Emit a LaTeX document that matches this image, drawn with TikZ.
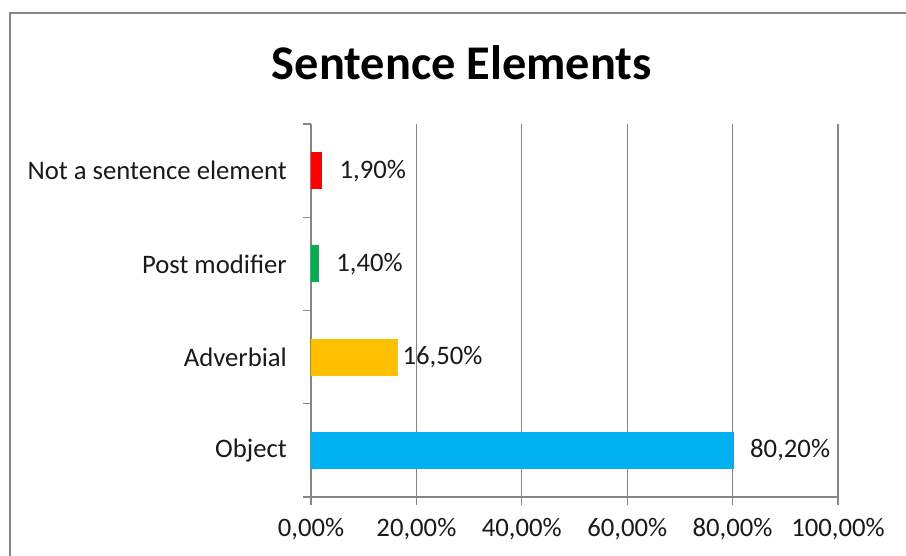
\documentclass[tikz,border=0pt]{standalone}
\usepackage{fontspec}
\setmainfont{Carlito}
\definecolor{gridgray}{HTML}{868686}
\definecolor{txt}{HTML}{1A1A1A}
\definecolor{barred}{HTML}{FF0000}
\definecolor{bargreen}{HTML}{00B050}
\definecolor{bargold}{HTML}{FFC000}
\definecolor{barblue}{HTML}{00B0F0}
\begin{document}
\begin{tikzpicture}[x=1pt,y=-1pt,
  grid/.style={draw=gridgray,line width=1.3pt},
  bar/.style={rectangle,anchor=west,inner sep=0pt,minimum height=37pt,fill=#1},
  vallabel/.style={anchor=west,inner sep=0pt,font=\fontsize{26.7}{26.7}\selectfont,text=txt},
  catlabel/.style={anchor=east,inner sep=0pt,font=\fontsize{26.7}{26.7}\selectfont,text=txt},
  ticklabel/.style={anchor=center,inner sep=0pt,font=\fontsize{26.7}{26.7}\selectfont,text=txt}]
\useasboundingbox (0,0) rectangle (906,555);
\fill[white] (0,0) rectangle (906,555);
% chart frame (runs past the page edge on the right and bottom)
\begin{scope}
\clip (0,0) rectangle (906,555);
\draw[draw=gridgray,line width=2pt] (9.5,13) rectangle (920,570);
\end{scope}
% title
\node[font=\bfseries\fontsize{48.4}{48.4}\selectfont,text=black,inner sep=0pt] (title) at (462,63) {Sentence Elements};
% vertical gridlines
\foreach \i in {1,...,5}{
  \draw[grid] ({311+105.4*\i},124) -- ({311+105.4*\i},497);
}
% axes and ticks
\draw[grid] (311,124) -- (311,497);
\draw[grid] (303,497) -- (838,497);
\foreach \j in {0,...,4}{
  \draw[grid] (303,{124+93.25*\j}) -- (311,{124+93.25*\j});
}
\foreach \i in {0,...,5}{
  \draw[grid] ({311+105.4*\i},497) -- ({311+105.4*\i},505);
}
% x tick labels
\node[ticklabel] (t0) at (311,529) {0,00\%};
\node[ticklabel] (t1) at (416.4,529) {20,00\%};
\node[ticklabel] (t2) at (521.8,529) {40,00\%};
\node[ticklabel] (t3) at (627.2,529) {60,00\%};
\node[ticklabel] (t4) at (732.6,529) {80,00\%};
\node[ticklabel] (t5) at (838,529) {100,00\%};
% bars
\node[bar=barred,minimum width=11pt] (b1) at (311,170.6) {};
\node[bar=bargreen,minimum width=7.8pt] (b2) at (311,263.9) {};
\node[bar=bargold,minimum width=87pt] (b3) at (311,357.1) {};
\node[bar=barblue,minimum width=422.6pt] (b4) at (311,450.4) {};
% value labels
\node[vallabel] (v1) at ([xshift=17pt]b1.east) {1,90\%};
\node[vallabel] (v2) at ([xshift=17pt]b2.east) {1,40\%};
\node[vallabel] (v3) at ([xshift=4pt]b3.east) {16,50\%};
\node[vallabel] (v4) at ([xshift=16pt]b4.east) {80,20\%};
% category labels
\node[catlabel] (c1) at (287,170.6) {Not a sentence element};
\node[catlabel] (c2) at (287,263.9) {Post modifier};
\node[catlabel] (c3) at (287,357.1) {Adverbial};
\node[catlabel] (c4) at (287,450.4) {Object};
\end{tikzpicture}
\end{document}
